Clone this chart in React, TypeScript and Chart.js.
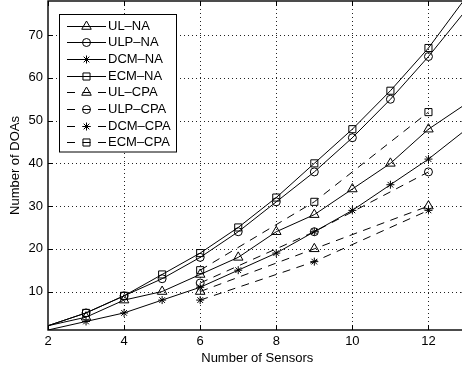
import React, { useEffect, useRef } from 'react';
import { Chart, registerables } from 'chart.js';
import { drawPoint } from 'chart.js/helpers';

Chart.register(...registerables);

// ---- data ----
const naSensors = [2, 3, 4, 5, 6, 7, 8, 9, 10, 11, 12, 13];
const ulNA = [2, 4, 8, 10, 14, 18, 24, 28, 34, 40, 48, 54];
const ulpNA = [2, 5, 9, 13, 18, 24, 31, 38, 46, 55, 65, 76];
const dcmNA = [1, 3, 5, 8, 11, 15, 19, 24, 29, 35, 41, 48];
const ecmNA = [2, 5, 9, 14, 19, 25, 32, 40, 48, 57, 67, 79];

const cpaSensors = [6, 9, 12];
const ulCPA = [10, 20, 30];
const ulpCPA = [12, 24, 38];
const dcmCPA = [8, 17, 29];
const ecmCPA = [15, 31, 52];

const seriesLabels = ['UL–NA', 'ULP–NA', 'DCM–NA', 'ECM–NA', 'UL–CPA', 'ULP–CPA', 'DCM–CPA', 'ECM–CPA'];
const xTicks = [2, 4, 6, 8, 10, 12];
const yTicks = [10, 20, 30, 40, 50, 60, 70];
const xRange = [2, 13];
const yRange = [1, 78];
const markedRange = [3, 12];
const xTitle = 'Number of Sensors';
const yTitle = 'Number of DOAs';

const FONT = "'Liberation Sans', Arial, Helvetica, sans-serif";
const RADIUS: Record<string, number> = { triangle: 5.5, circle: 4, star: 4, rect: 5 };
const DASH = [8, 6.5];

function makeSet(label: string, xs: number[], ys: number[], style: string, dashed: boolean) {
  const r = RADIUS[style];
  const rad = (c: any) => {
    const x = c.raw && c.raw.x;
    return x >= markedRange[0] && x <= markedRange[1] ? r : 0;
  };
  return {
    label,
    data: xs.map((x, i) => ({ x, y: ys[i] })),
    borderColor: '#000',
    borderWidth: 1,
    borderDash: dashed ? DASH : [],
    pointStyle: style,
    pointRadius: rad,
    pointHoverRadius: rad,
    pointBorderColor: '#000',
    pointBackgroundColor: 'rgba(0,0,0,0)',
    pointBorderWidth: 1,
    tension: 0,
    fill: false,
  };
}

const datasets = [
  makeSet(seriesLabels[0], naSensors, ulNA, 'triangle', false),
  makeSet(seriesLabels[1], naSensors, ulpNA, 'circle', false),
  makeSet(seriesLabels[2], naSensors, dcmNA, 'star', false),
  makeSet(seriesLabels[3], naSensors, ecmNA, 'rect', false),
  makeSet(seriesLabels[4], cpaSensors, ulCPA, 'triangle', true),
  makeSet(seriesLabels[5], cpaSensors, ulpCPA, 'circle', true),
  makeSet(seriesLabels[6], cpaSensors, dcmCPA, 'star', true),
  makeSet(seriesLabels[7], cpaSensors, ecmCPA, 'rect', true),
];

const framePlugin = {
  id: 'matlabFrame',
  beforeDatasetsDraw(chart: any) {
    const { ctx, chartArea: a, scales } = chart;
    const xs = scales.x;
    const ys = scales.y;
    ctx.save();
    // dotted grid
    ctx.strokeStyle = '#222';
    ctx.lineWidth = 1;
    ctx.setLineDash([1, 3]);
    xTicks.forEach((v) => {
      if (v === xRange[0]) return;
      const px = Math.round(xs.getPixelForValue(v)) + 0.5;
      ctx.beginPath();
      ctx.moveTo(px, a.top);
      ctx.lineTo(px, a.bottom);
      ctx.stroke();
    });
    yTicks.forEach((v) => {
      const py = Math.round(ys.getPixelForValue(v)) + 0.5;
      ctx.beginPath();
      ctx.moveTo(a.left, py);
      ctx.lineTo(a.right, py);
      ctx.stroke();
    });
    ctx.setLineDash([]);
    // inward tick marks
    ctx.strokeStyle = '#000';
    const tl = 5;
    xTicks.forEach((v) => {
      const px = Math.round(xs.getPixelForValue(v)) + 0.5;
      ctx.beginPath();
      ctx.moveTo(px, a.bottom);
      ctx.lineTo(px, a.bottom - tl);
      ctx.moveTo(px, a.top);
      ctx.lineTo(px, a.top + tl);
      ctx.stroke();
    });
    yTicks.forEach((v) => {
      const py = Math.round(ys.getPixelForValue(v)) + 0.5;
      ctx.beginPath();
      ctx.moveTo(a.left, py);
      ctx.lineTo(a.left + tl, py);
      ctx.moveTo(a.right, py);
      ctx.lineTo(a.right - tl, py);
      ctx.stroke();
    });
    // box
    ctx.lineWidth = 1.4;
    ctx.strokeRect(a.left, a.top, a.right - a.left, a.bottom - a.top);
    ctx.restore();
  },
  afterDraw(chart: any) {
    const { ctx } = chart;
    const bx = 59.5, by = 14.5, bw = 117, bh = 137.5;
    const row0 = 25.5, rowH = 16.7;
    const l0 = 67, l1 = 106, mx = 86.5, tx = 108;
    ctx.save();
    ctx.fillStyle = '#fff';
    ctx.fillRect(bx, by, bw, bh);
    ctx.strokeStyle = '#000';
    ctx.lineWidth = 1;
    ctx.strokeRect(bx, by, bw, bh);
    chart.data.datasets.forEach((ds: any, i: number) => {
      const yy = Math.round(row0 + i * rowH) + 0.5;
      ctx.strokeStyle = '#000';
      ctx.lineWidth = 1;
      const dashed = ds.borderDash && ds.borderDash.length;
      ctx.setLineDash(dashed ? [8, 7.5] : []);
      ctx.beginPath();
      ctx.moveTo(l0, yy);
      ctx.lineTo(l1, yy);
      ctx.stroke();
      ctx.setLineDash([]);
      ctx.fillStyle = 'rgba(0,0,0,0)';
      drawPoint(ctx, { pointStyle: ds.pointStyle, radius: RADIUS[ds.pointStyle], rotation: 0, borderWidth: 1 } as any, mx, yy);
      ctx.fillStyle = '#000';
      ctx.font = `13px ${FONT}`;
      ctx.textBaseline = 'middle';
      ctx.textAlign = 'left';
      ctx.fillText(ds.label, tx, yy);
    });
    ctx.restore();
  },
};

export default function App() {
  const ref = useRef<HTMLCanvasElement>(null);
  useEffect(() => {
    const canvas = ref.current;
    if (!canvas) return;
    const chart = new Chart(canvas, {
      type: 'line',
      data: { datasets: datasets as any },
      options: {
        animation: false,
        responsive: false,
        devicePixelRatio: 1,
        events: [],
        layout: { autoPadding: false, padding: { left: 0, right: 3.5, top: 1, bottom: 0 } },
        plugins: { legend: { display: false }, tooltip: { enabled: false } },
        scales: {
          x: {
            type: 'linear',
            min: xRange[0],
            max: xRange[1],
            afterBuildTicks: (s: any) => {
              s.ticks = xTicks.map((v) => ({ value: v }));
            },
            afterFit: (s: any) => {
              s.height = 38;
              s.paddingLeft = 0;
              s.paddingRight = 0;
              s.paddingTop = 0;
              s.paddingBottom = 0;
            },
            grid: { display: false, drawTicks: false },
            border: { display: false },
            ticks: { color: '#000', padding: 4, maxRotation: 0, font: { family: FONT, size: 13 } },
            title: { display: true, text: xTitle, color: '#000', padding: { top: 0, bottom: 2 }, font: { family: FONT, size: 13 } },
          },
          y: {
            type: 'linear',
            min: yRange[0],
            max: yRange[1],
            afterBuildTicks: (s: any) => {
              s.ticks = yTicks.map((v) => ({ value: v }));
            },
            afterFit: (s: any) => {
              s.width = 48;
              s.paddingLeft = 0;
              s.paddingRight = 0;
              s.paddingTop = 0;
              s.paddingBottom = 0;
            },
            grid: { display: false, drawTicks: false },
            border: { display: false },
            ticks: { color: '#000', padding: 5, font: { family: FONT, size: 13 } },
            title: { display: true, text: yTitle, color: '#000', padding: { top: 8, bottom: 0 }, font: { family: FONT, size: 13 } },
          },
        },
      },
      plugins: [framePlugin],
    });
    return () => chart.destroy();
  }, []);
  return (
    <div style={{ position: 'fixed', left: 0, top: 0, width: 462, height: 368, overflow: 'hidden', background: '#fff' }}>
      <canvas ref={ref} width={470} height={368} style={{ display: 'block', width: 470, height: 368 }} />
    </div>
  );
}
